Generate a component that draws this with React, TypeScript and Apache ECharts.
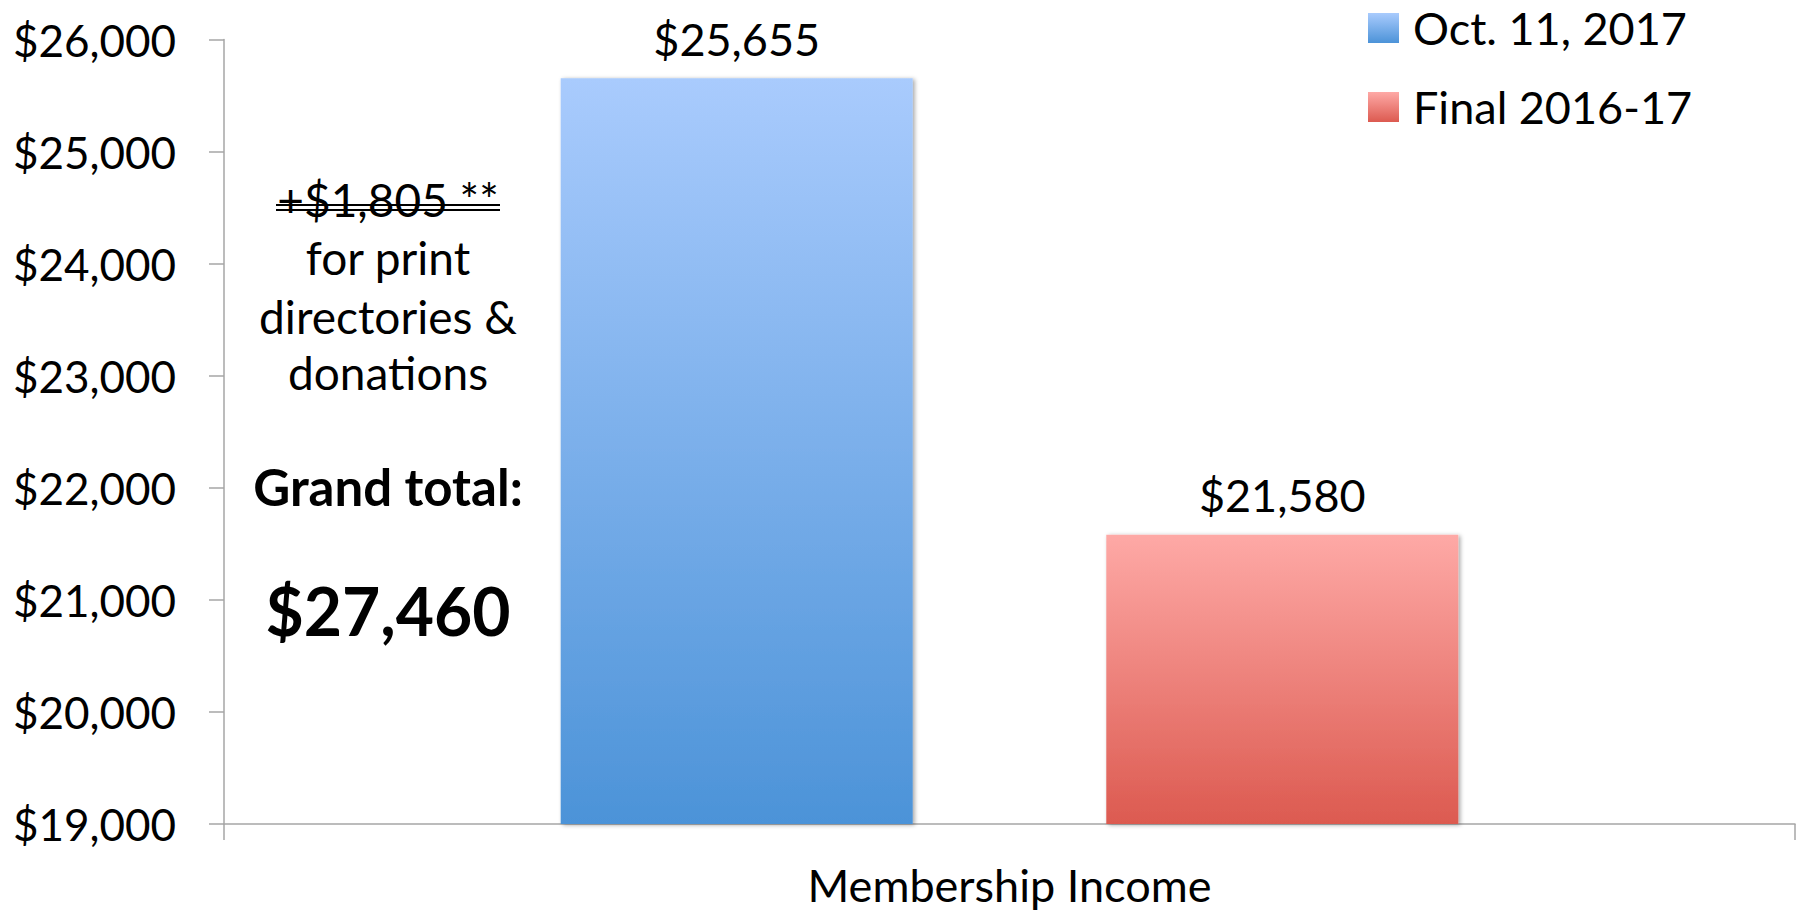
import React, { useEffect, useRef } from "react";
import * as echarts from "echarts";

const categories = ["Membership Income"];
const seriesNames = ["Oct. 11, 2017", "Final 2016-17"];
const octValues = [25655];
const finalValues = [21580];
const yMin = 19000;
const yMax = 26000;
const yInterval = 1000;
const noteLines = ["+$1,805 **", "for print", "directories &", "donations"];
const grandLabel = "Grand total:";
const grandValue = "$27,460";

const FONT = "Lato, 'Noto Sans', sans-serif";

const fmt = (v: number) => "$" + Math.round(v).toLocaleString("en-US");

export default function App() {
  const ref = useRef<HTMLDivElement>(null);
  useEffect(() => {
    document.body.style.margin = "0";
    document.body.style.overflow = "hidden";
    if (!ref.current) return;
    const chart = echarts.init(ref.current, undefined, { renderer: "svg" });
    const blue = {
      type: "linear", x: 0, y: 0, x2: 0, y2: 1,
      colorStops: [
        { offset: 0, color: "#a9cbfd" },
        { offset: 1, color: "#4c93d8" },
      ],
    };
    const red = {
      type: "linear", x: 0, y: 0, x2: 0, y2: 1,
      colorStops: [
        { offset: 0, color: "#fea9a6" },
        { offset: 1, color: "#dc5a50" },
      ],
    };
    const cx = 388;
    const noteYs = [199, 257, 316, 372];
    const graphic: any[] = noteLines.map((t, i) => ({
      type: "text",
      x: cx,
      y: noteYs[i],
      style: {
        text: t,
        fill: "#000",
        font: `46px ${FONT}`,
        textAlign: "center",
        textVerticalAlign: "middle",
      },
    }));
    graphic.push(
      { type: "line", shape: { x1: cx - 112, y1: 205, x2: cx + 112, y2: 205 }, style: { stroke: "#000", lineWidth: 2 } },
      { type: "line", shape: { x1: cx - 112, y1: 210, x2: cx + 112, y2: 210 }, style: { stroke: "#000", lineWidth: 2 } },
      {
        type: "text", x: cx, y: 486,
        style: { text: grandLabel, fill: "#000", font: `bold 51px ${FONT}`, textAlign: "center", textVerticalAlign: "middle" },
      },
      {
        type: "text", x: cx, y: 610,
        style: { text: grandValue, fill: "#000", font: `bold 66px ${FONT}`, textAlign: "center", textVerticalAlign: "middle" },
      }
    );
    const barCommon = {
      type: "bar",
      barWidth: 352,
      barGap: "55%",
      label: {
        show: true,
        position: "top",
        distance: 17,
        formatter: (p: any) => fmt(p.value),
        color: "#000",
        fontSize: 45,
        fontFamily: FONT,
      },
    };
    chart.setOption({
      animation: false,
      textStyle: { fontFamily: FONT },
      grid: { left: 224, right: 7, top: 39.5, bottom: 90, containLabel: false },
      legend: {
        orient: "vertical",
        left: 1368,
        top: 5,
        padding: 0,
        itemWidth: 31,
        itemHeight: 30,
        itemGap: 33,
        icon: "rect",
        data: seriesNames,
        textStyle: { fontSize: 45, lineHeight: 46, color: "#000", fontFamily: FONT, padding: [0, 0, 0, 9] },
      },
      xAxis: {
        type: "category",
        data: categories,
        axisLine: { lineStyle: { color: "#a6a6a6", width: 1.5 } },
        axisTick: { show: true, length: 16, alignWithLabel: false, lineStyle: { color: "#a6a6a6", width: 1.5 } },
        axisLabel: { color: "#000", fontSize: 45, lineHeight: 46, fontFamily: FONT, margin: 38 },
      },
      yAxis: {
        type: "value",
        min: yMin,
        max: yMax,
        interval: yInterval,
        axisLine: { show: true, lineStyle: { color: "#a6a6a6", width: 1.5 } },
        axisTick: { show: true, length: 15, lineStyle: { color: "#a6a6a6", width: 1.5 } },
        splitLine: { show: false },
        axisLabel: { color: "#000", fontSize: 44, fontFamily: FONT, margin: 48, formatter: fmt },
      },
      series: [
        {
          ...barCommon,
          name: seriesNames[0],
          data: octValues,
          itemStyle: { color: blue, shadowColor: "rgba(0,0,0,0.35)", shadowBlur: 4, shadowOffsetX: 2, shadowOffsetY: 1 },
        },
        {
          ...barCommon,
          name: seriesNames[1],
          data: finalValues,
          itemStyle: { color: red, shadowColor: "rgba(0,0,0,0.35)", shadowBlur: 4, shadowOffsetX: 2, shadowOffsetY: 1 },
        },
      ],
      graphic,
    });
    return () => chart.dispose();
  }, []);
  return <div ref={ref} style={{ width: 1802, height: 914 }} />;
}
